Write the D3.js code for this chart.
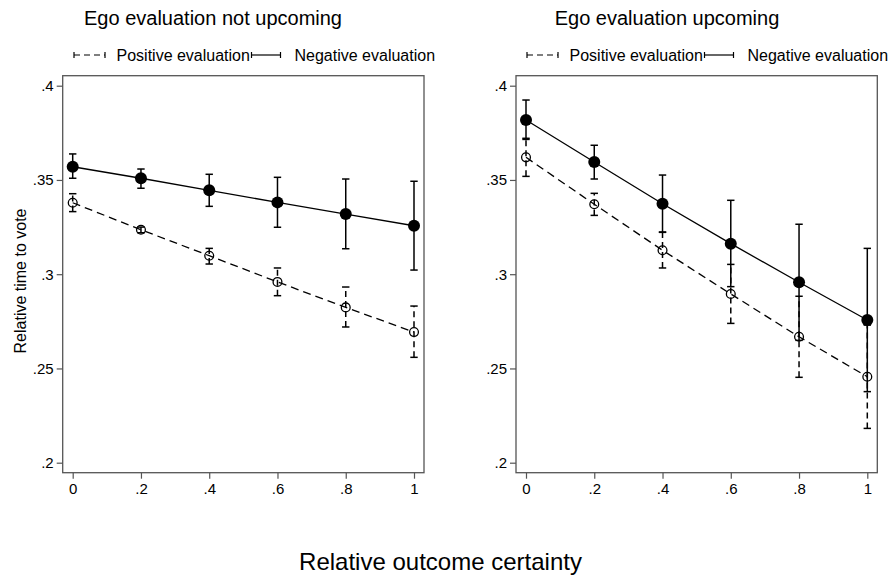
<!DOCTYPE html>
<html>
<head>
<meta charset="utf-8">
<script src="https://cdn.jsdelivr.net/npm/d3@7"></script>
<style>
  body { margin: 0; background: #fff; }
  svg { font-family: Arial, "Liberation Sans", sans-serif; }
</style>
</head>
<body>
<div id="chart"></div>
<script>
// Data
const certainty = [0, 0.2, 0.4, 0.6, 0.8, 1];
const xTicks = [0, 0.2, 0.4, 0.6, 0.8, 1];
const xTickLabels = ["0", ".2", ".4", ".6", ".8", "1"];
const yTicks = [0.2, 0.25, 0.3, 0.35, 0.4];
const yTickLabels = [".2", ".25", ".3", ".35", ".4"];
const panelTitles = ["Ego evaluation not upcoming", "Ego evaluation upcoming"];
const seriesNames = ["Positive evaluation", "Negative evaluation"];

// Ego evaluation not upcoming
const notUpPosMean = [0.3379, 0.3236, 0.3098, 0.2959, 0.2824, 0.2693];
const notUpPosLo   = [0.3332, 0.3220, 0.3054, 0.2886, 0.2720, 0.2559];
const notUpPosHi   = [0.3427, 0.3250, 0.3137, 0.3033, 0.2932, 0.2831];
const notUpNegMean = [0.3570, 0.3509, 0.3445, 0.3381, 0.3319, 0.3257];
const notUpNegLo   = [0.3509, 0.3456, 0.3360, 0.3249, 0.3135, 0.3022];
const notUpNegHi   = [0.3638, 0.3558, 0.3530, 0.3514, 0.3505, 0.3493];

// Ego evaluation upcoming
const upPosMean = [0.3620, 0.3371, 0.3127, 0.2895, 0.2668, 0.2456];
const upPosLo   = [0.3519, 0.3312, 0.3033, 0.2739, 0.2453, 0.2182];
const upPosHi   = [0.3721, 0.3429, 0.3224, 0.3052, 0.2883, 0.2730];
const upNegMean = [0.3818, 0.3595, 0.3374, 0.3162, 0.2957, 0.2757];
const upNegLo   = [0.3715, 0.3505, 0.3222, 0.2934, 0.2649, 0.2377];
const upNegHi   = [0.3924, 0.3684, 0.3526, 0.3392, 0.3265, 0.3137];

const panels = [
  { title: panelTitles[0], pos: [notUpPosMean, notUpPosLo, notUpPosHi], neg: [notUpNegMean, notUpNegLo, notUpNegHi],
    x0: 72.7, x1: 414, titleX: 213, legendX: 74 },
  { title: panelTitles[1], pos: [upPosMean, upPosLo, upPosHi], neg: [upNegMean, upNegLo, upNegHi],
    x0: 526, x1: 867.3, titleX: 667, legendX: 527 }
];

const width = 894, height = 583;
const svg = d3.select("#chart").append("svg")
  .attr("width", width)
  .attr("height", height);

const y = d3.scaleLinear().domain([0.2, 0.4]).range([462.7, 85.7]);
const pad = 10;

panels.forEach(p => {
  const x = d3.scaleLinear().domain([0, 1]).range([p.x0, p.x1]);
  const g = svg.append("g");

  // Plot frame
  g.append("rect")
    .attr("x", p.x0 - pad)
    .attr("y", y(0.4) - pad)
    .attr("width", p.x1 - p.x0 + 2 * pad)
    .attr("height", y(0.2) - y(0.4) + 2 * pad)
    .attr("fill", "none")
    .attr("stroke", "#555")
    .attr("stroke-width", 1.3);

  // Axes
  const yAxis = g.append("g")
    .attr("transform", `translate(${p.x0 - pad},0)`)
    .call(d3.axisLeft(y).tickValues(yTicks).tickFormat((d, i) => yTickLabels[i]).tickSize(6).tickPadding(3).tickSizeOuter(0));
  const xAxis = g.append("g")
    .attr("transform", `translate(0,${y(0.2) + pad})`)
    .call(d3.axisBottom(x).tickValues(xTicks).tickFormat((d, i) => xTickLabels[i]).tickSize(6).tickPadding(5).tickSizeOuter(0));
  [yAxis, xAxis].forEach(a => {
    a.select(".domain").remove();
    a.selectAll(".tick line").attr("stroke", "#555").attr("stroke-width", 1.2);
    a.selectAll(".tick text").attr("font-size", 15).attr("fill", "#000")
      .attr("font-family", "Arial, 'Liberation Sans', sans-serif");
  });

  // Confidence interval caps
  function drawCI(series, dash) {
    const [mean, lo, hi] = series;
    const data = certainty.map((c, i) => ({ c, lo: lo[i], hi: hi[i] }));
    const ci = g.append("g")
      .attr("stroke", "#000")
      .attr("stroke-width", 1.5)
      .attr("fill", "none");
    ci.selectAll("line.bar").data(data).join("line")
      .attr("x1", d => x(d.c)).attr("x2", d => x(d.c))
      .attr("y1", d => y(d.lo)).attr("y2", d => y(d.hi))
      .attr("stroke-dasharray", dash);
    ci.selectAll("line.capLo").data(data).join("line")
      .attr("x1", d => x(d.c) - 3.7).attr("x2", d => x(d.c) + 3.7)
      .attr("y1", d => y(d.lo)).attr("y2", d => y(d.lo));
    ci.selectAll("line.capHi").data(data).join("line")
      .attr("x1", d => x(d.c) - 3.7).attr("x2", d => x(d.c) + 3.7)
      .attr("y1", d => y(d.hi)).attr("y2", d => y(d.hi));
  }
  drawCI(p.pos, "6,4");
  drawCI(p.neg, null);

  const line = d3.line().x((d, i) => x(certainty[i])).y(d => y(d));

  // Positive: dashed line, hollow circles
  g.append("path")
    .datum(p.pos[0])
    .attr("d", line)
    .attr("fill", "none")
    .attr("stroke", "#000")
    .attr("stroke-width", 1.3)
    .attr("stroke-dasharray", "8,5");
  g.selectAll("circle.pos").data(p.pos[0]).join("circle")
    .attr("class", "pos")
    .attr("cx", (d, i) => x(certainty[i]))
    .attr("cy", d => y(d))
    .attr("r", 4.4)
    .attr("fill", "none")
    .attr("stroke", "#000")
    .attr("stroke-width", 1.3);

  // Negative: solid line, filled circles
  g.append("path")
    .datum(p.neg[0])
    .attr("d", line)
    .attr("fill", "none")
    .attr("stroke", "#000")
    .attr("stroke-width", 1.3);
  g.selectAll("circle.neg").data(p.neg[0]).join("circle")
    .attr("class", "neg")
    .attr("cx", (d, i) => x(certainty[i]))
    .attr("cy", d => y(d))
    .attr("r", 6)
    .attr("fill", "#000");

  // Panel title
  g.append("text")
    .attr("x", p.titleX)
    .attr("y", 25)
    .attr("text-anchor", "middle")
    .attr("font-size", 20)
    .text(p.title);

  // Legend
  const lg = g.append("g").attr("transform", `translate(${p.legendX},55)`);
  const legendItems = [
    { name: seriesNames[0], dash: "6,4", sx: 0, sw: 31, tx: 42.5 },
    { name: seriesNames[1], dash: null, sx: 177.5, sw: 29, tx: 220.5 }
  ];
  legendItems.forEach(it => {
    const s = lg.append("g").attr("stroke", "#000").attr("stroke-width", 1.2);
    s.append("line").attr("x1", it.sx).attr("x2", it.sx + it.sw).attr("y1", 0).attr("y2", 0)
      .attr("stroke-dasharray", it.dash);
    s.append("line").attr("x1", it.sx).attr("x2", it.sx).attr("y1", -3).attr("y2", 3);
    s.append("line").attr("x1", it.sx + it.sw).attr("x2", it.sx + it.sw).attr("y1", -3).attr("y2", 3);
    lg.append("text")
      .attr("x", it.tx)
      .attr("y", 0)
      .attr("dy", "0.35em")
      .attr("font-size", 16)
      .text(it.name);
  });
});

// Shared axis titles
svg.append("text")
  .attr("transform", "translate(20,281) rotate(-90)")
  .attr("text-anchor", "middle")
  .attr("dy", "0.35em")
  .attr("font-size", 16)
  .text("Relative time to vote");

svg.append("text")
  .attr("x", 440.5)
  .attr("y", 562)
  .attr("text-anchor", "middle")
  .attr("dy", "0.35em")
  .attr("font-size", 24)
  .text("Relative outcome certainty");
</script>
</body>
</html>
